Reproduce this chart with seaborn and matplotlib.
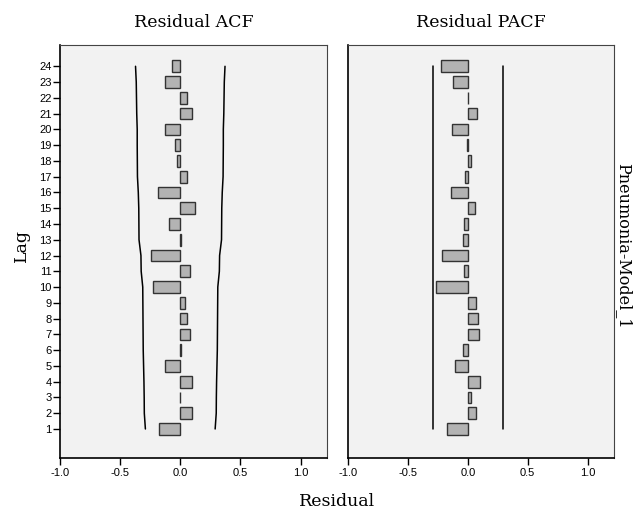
import numpy as np
import pandas as pd
import matplotlib
matplotlib.use('Agg')
import matplotlib.pyplot as plt
import seaborn as sns

# --- Data ---
lags = list(range(1, 25))
acf_values = [-0.175, 0.094, -0.004, 0.100, -0.128, 0.008, 0.083, 0.053, 0.036, -0.228,
              0.078, -0.247, 0.004, -0.097, 0.125, -0.183, 0.053, -0.030, -0.047, -0.130,
              0.100, 0.060, -0.125, -0.070]
pacf_values = [-0.175, 0.067, 0.025, 0.100, -0.106, -0.039, 0.097, 0.089, 0.069, -0.264,
               -0.036, -0.214, -0.042, -0.033, 0.061, -0.139, -0.022, 0.025, -0.003, -0.136,
               0.078, 0.004, -0.122, -0.220]
acf_upper = [0.290, 0.299, 0.300, 0.302, 0.305, 0.308, 0.309, 0.310, 0.311, 0.312,
             0.325, 0.327, 0.343, 0.344, 0.345, 0.349, 0.356, 0.357, 0.358, 0.358,
             0.362, 0.364, 0.366, 0.372]
acf_lower = [-v for v in acf_upper]
pacf_upper = [0.293] * 24
pacf_lower = [-0.293] * 24
x_ticks = [-1.0, -0.5, 0.0, 0.5, 1.0]
panel_titles = ['Residual ACF', 'Residual PACF']
row_label = 'Pneumonia-Model_1'

# --- Style ---
sns.set_style('white')
serif = ['DejaVu Serif']
sans = ['Liberation Sans', 'DejaVu Sans']
plt.rcParams['font.family'] = sans
plt.rcParams['text.color'] = 'black'
plt.rcParams['xtick.color'] = 'black'
plt.rcParams['ytick.color'] = 'black'

PANEL_BG = '#f2f2f2'
BAR_COLOR = '#b3b3b3'
EDGE_COLOR = '#333333'

W, H = 635, 514
fig = plt.figure(figsize=(W / 100, H / 100), dpi=100)

# panel boxes in pixels (left, top, right, bottom)
boxes = [(60, 45, 327, 458), (348, 45, 614, 458)]


def make_axes(box):
    l, t, r, b = box
    return fig.add_axes([l / W, 1 - b / H, (r - l) / W, (b - t) / H])


def draw_panel(ax, values, upper, lower, title, show_y):
    df = pd.DataFrame({'lag': lags, 'value': values})
    ax.set_facecolor(PANEL_BG)
    sns.barplot(data=df, x='value', y='lag', orient='h', native_scale=True,
                color=BAR_COLOR, edgecolor=EDGE_COLOR, linewidth=1.0,
                width=0.74, saturation=1, ax=ax)
    # confidence bounds
    sns.lineplot(x=upper, y=lags, orient='y', color='black', linewidth=1.1, ax=ax)
    sns.lineplot(x=lower, y=lags, orient='y', color='black', linewidth=1.1, ax=ax)

    ax.set_xlim(-1.0, 1.22)
    ax.set_ylim(-0.84, 25.35)
    ax.set_xticks(x_ticks)
    ax.set_xticklabels([f'{v:.1f}' for v in x_ticks], fontsize=8)
    ax.set_xlabel('')
    ax.set_ylabel('')
    ax.set_title(title, family=serif, fontsize=12.5, pad=13, color='black')
    ax.tick_params(axis='x', bottom=True, direction='out', length=5, width=1.0,
                   color='black', pad=2)
    if show_y:
        ax.set_yticks(lags)
        ax.set_yticklabels([str(l) for l in lags], fontsize=8)
        ax.tick_params(axis='y', left=True, direction='out', length=5, width=1.0,
                       color='black', pad=1)
    else:
        ax.set_yticks([])
    for side in ['left', 'bottom']:
        ax.spines[side].set_color('black')
        ax.spines[side].set_linewidth(1.2)
    for side in ['right', 'top']:
        ax.spines[side].set_color('#444444')
        ax.spines[side].set_linewidth(0.8)


ax_acf = make_axes(boxes[0])
ax_pacf = make_axes(boxes[1])
draw_panel(ax_acf, acf_values, acf_upper, acf_lower, panel_titles[0], True)
draw_panel(ax_pacf, pacf_values, pacf_upper, pacf_lower, panel_titles[1], False)

# shared labels
fig.text(21 / W, 1 - 245 / H, 'Lag', rotation=90, family=serif, fontsize=12.5,
         ha='center', va='center')
fig.text(337 / W, 1 - 502 / H, 'Residual', family=serif, fontsize=12.5,
         ha='center', va='center')
fig.text(624 / W, 1 - 246 / H, row_label, rotation=270, family=serif, fontsize=11.5,
         ha='center', va='center')

fig.savefig('out.png', dpi=100)
